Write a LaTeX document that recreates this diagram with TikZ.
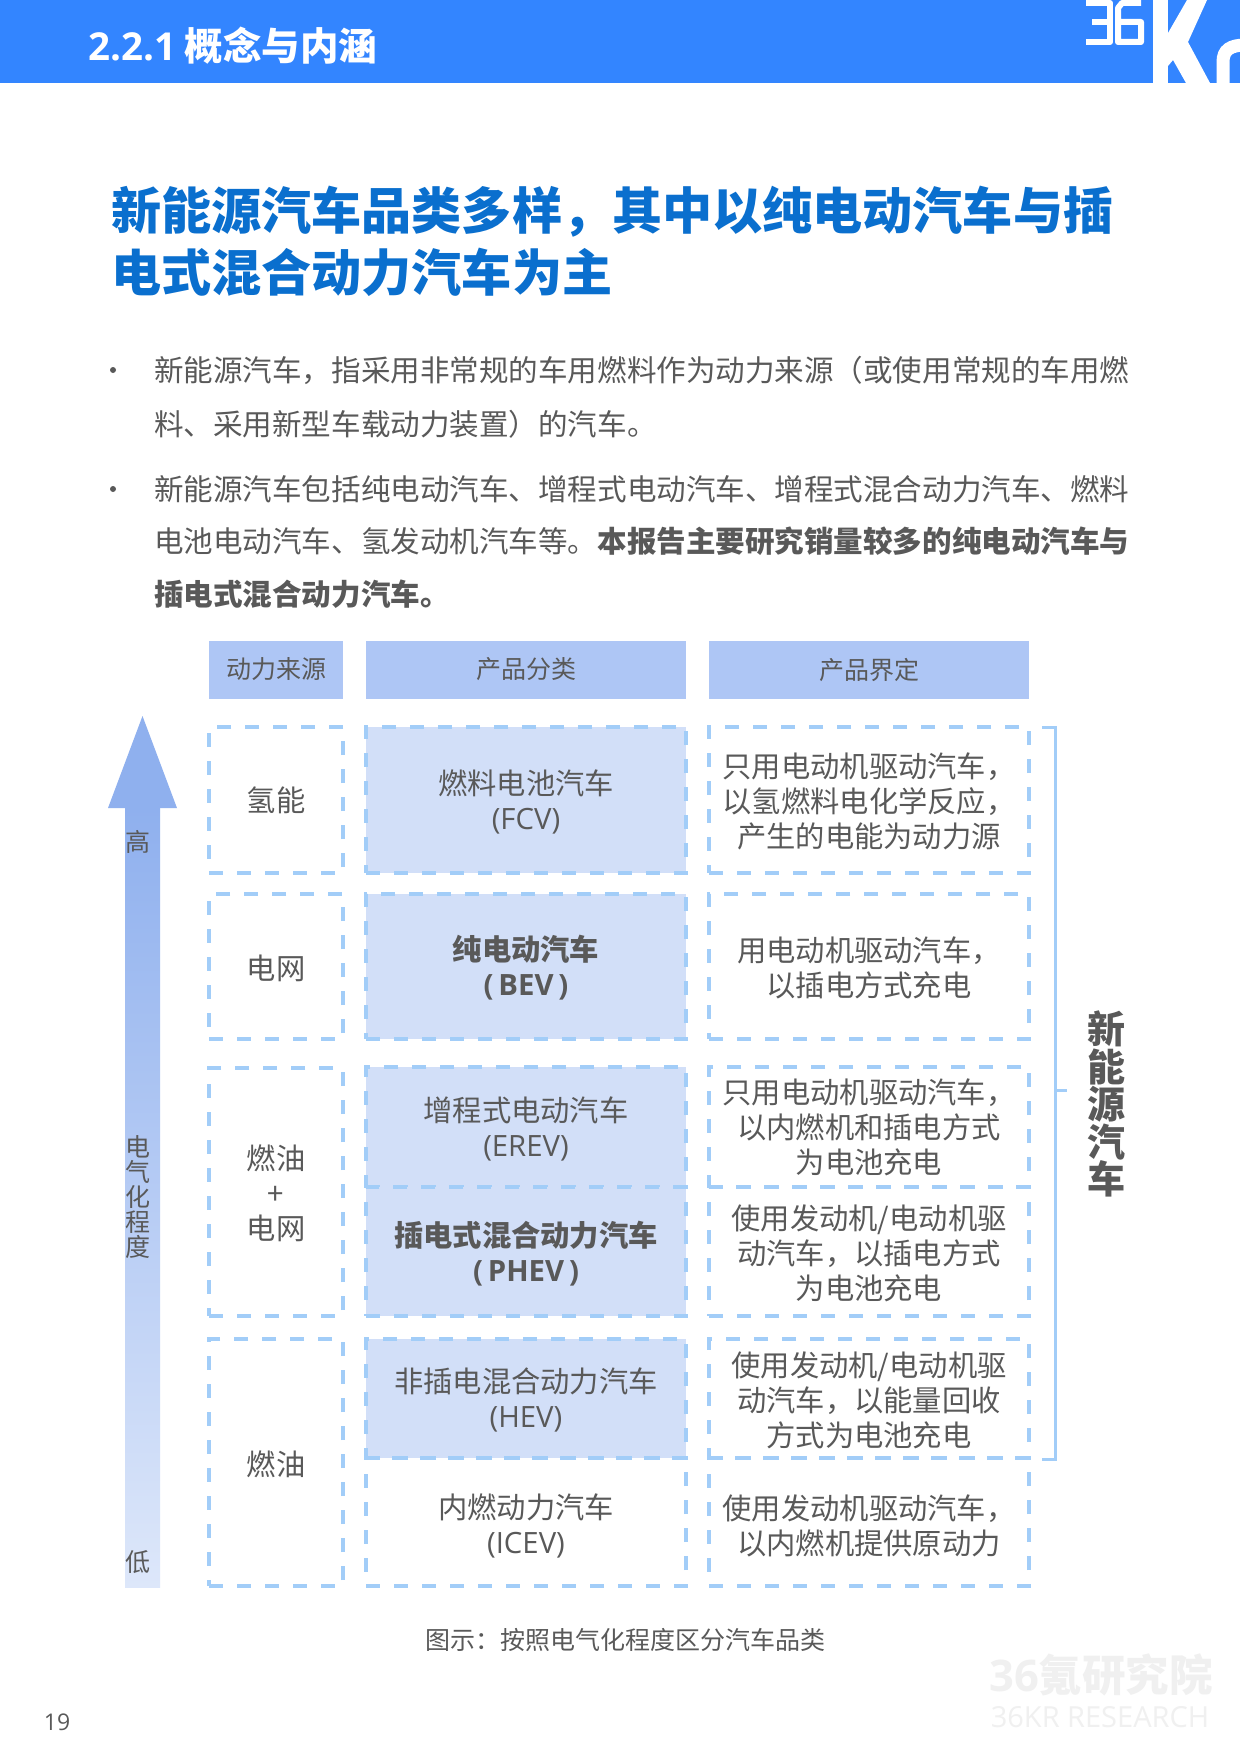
\documentclass[tikz,border=0pt]{standalone}
\usepackage{fontspec}
\setmainfont{Noto Sans CJK SC}
\newfontfamily\lat{Open Sans}
\usetikzlibrary{shadings}
\definecolor{band}{HTML}{3385FF}
\definecolor{titleblue}{HTML}{0A6FCE}
\definecolor{txt}{HTML}{595959}
\definecolor{dashblue}{HTML}{A2CDF8}
\definecolor{headfill}{HTML}{AEC6F5}
\definecolor{cellfill}{HTML}{D2DFF8}
\definecolor{arrowtop}{HTML}{8FB0EE}
\definecolor{arrowbot}{HTML}{DDE7FA}
\tikzset{
 x=1pt,y=-1pt,
 headbox/.style={fill=headfill,draw=none,minimum height=58pt,inner sep=0pt,text=txt,font=\fontsize{25}{25}\selectfont},
 cellbox/.style={draw=dashblue,line width=4.5pt,dash pattern=on 14pt off 14pt,inner sep=0pt},
 celltext/.style={inner sep=0pt,text=txt,align=center,font=\fontsize{29.3}{35}\selectfont},
 col1/.style={cellbox,minimum width=134pt},
 col2/.style={cellbox,minimum width=320pt,fill=cellfill},
 col2w/.style={cellbox,minimum width=320pt},
 col3/.style={cellbox,minimum width=320pt},
 para/.style={anchor=west,inner sep=0pt,text=txt,font=\fontsize{29.55}{29.55}\selectfont},
 lab/.style={inner sep=0pt,text=txt,align=center,font=\fontsize{25}{25}\selectfont},
}
\newcommand{\cellat}[6]{% name, style, y-top, y-bottom, text shift, text
 \pgfmathsetmacro{\hh}{#4-#3}
 \pgfmathsetmacro{\cy}{(#3+#4)/2}
 \node[#2,minimum height=\hh pt,anchor=center] (#1) at (\xc,\cy) {};
 \node[celltext,yshift=-#5pt] (#1t) at (#1.center) {#6};}
\begin{document}
\begin{tikzpicture}
\useasboundingbox (0,0) rectangle (1240,1755);
\fill[white] (0,0) rectangle (1240,1755);
\fill[band] (0,0) rectangle (1240,83);
\node[anchor=west,inner sep=0pt,text=white,font=\fontsize{38.5}{38.5}\selectfont\bfseries] (sec) at (88,46) {{\lat 2.2.1} 概念与内涵};
% logo
\begin{scope}
\clip (0,0) rectangle (1240,83);
\draw[white,line width=6pt,line join=round] (1086,3) -- (1110,3) -- (1110,42) -- (1086,42);
\draw[white,line width=6pt] (1110,22) -- (1092,22);
\draw[white,line width=6pt,line join=round] (1141,3) -- (1122,3) -- (1118,8) -- (1118,42) -- (1141,42) -- (1141,22) -- (1118,22);
\fill[white] (1153,0) rectangle (1168,83);
\fill[white] (1168,33) -- (1187,0) -- (1207,0) -- (1188,42) -- (1210,83) -- (1186,83) -- (1173,60) -- (1168,66) -- cycle;
\draw[white,line width=13pt] (1223,90) -- (1223,62) .. controls (1223,50) and (1230,45) .. (1246,45);
\end{scope}
% title
\node[anchor=west,inner sep=0pt,text=titleblue,font=\fontsize{50.1}{50.1}\selectfont\bfseries] (t1) at (111,212) {新能源汽车品类多样，其中以纯电动汽车与插};
\node[anchor=west,inner sep=0pt,text=titleblue,font=\fontsize{50.1}{50.1}\selectfont\bfseries] (t2) at (111,272) {电式混合动力汽车为主};
% bullets
\node[circle,fill=txt,minimum size=6pt,inner sep=0pt] (b1) at (113,370) {};
\node[circle,fill=txt,minimum size=6pt,inner sep=0pt] (b2) at (113,489) {};
\node[para] (p1) at (154,370) {新能源汽车，指采用非常规的车用燃料作为动力来源（或使用常规的车用燃};
\node[para] (p2) at (154,424) {料、采用新型车载动力装置）的汽车。};
\node[para] (p3) at (154,489) {新能源汽车包括纯电动汽车、增程式电动汽车、增程式混合动力汽车、燃料};
\node[para] (p4) at (154,541) {电池电动汽车、氢发动机汽车等。\textbf{本报告主要研究销量较多的纯电动汽车与}};
\node[para,font=\fontsize{29.55}{29.55}\selectfont\bfseries] (p5) at (154,594) {插电式混合动力汽车。};
% headers
\node[headbox,minimum width=134pt] (h1) at (276,669.5) {动力来源};
\node[headbox,minimum width=320pt] (h2) at (526,669.5) {产品分类};
\node[headbox,minimum width=320pt] (h3) at (869,669.5) {产品界定};
% arrow
\shade[top color=arrowtop,bottom color=arrowbot] (125,808) rectangle (160,1587);
\fill[arrowtop] (142.5,716) -- (177,808) -- (108,808) -- cycle;
\node[lab] (high) at (138,842) {高};
\node[lab] (mid) at (138,1197) {电\\气\\化\\程\\度};
\node[lab] (low) at (138,1562) {低};
% col 1
\def\xc{276}
\cellat{a1}{col1}{727}{873}{0.5}{氢能}
\cellat{a2}{col1}{894}{1039}{1.5}{电网}
\cellat{a3}{col1}{1068}{1316}{1}{燃油\\+\\电网}
\cellat{a4}{col1}{1339}{1586}{2}{燃油}
% col 2
\def\xc{526}
\cellat{c1}{col2}{727}{873}{1.5}{燃料电池汽车\\{\lat (FCV)}}
\cellat{c2}{col2}{894}{1039}{1.5}{\textbf{纯电动汽车}\\\textbf{\lat (\,BEV\,)}}
\cellat{c3}{col2}{1067}{1187}{1.5}{增程式电动汽车\\{\lat (EREV)}}
\cellat{c4}{col2}{1187}{1316}{2.5}{\textbf{插电式混合动力汽车}\\\textbf{\lat (\,PHEV\,)}}
\cellat{c5}{col2}{1339}{1458}{1.5}{非插电混合动力汽车\\{\lat (HEV)}}
\cellat{c6}{col2w}{1458}{1586}{3.5}{内燃动力汽车\\{\lat (ICEV)}}
% col 3
\def\xc{869}
\cellat{d1}{col3}{727}{873}{1}{只用电动机驱动汽车，\\以氢燃料电化学反应，\\产生的电能为动力源}
\cellat{d2}{col3}{894}{1039}{1}{用电动机驱动汽车，\\以插电方式充电}
\cellat{d3}{col3}{1067}{1187}{0.5}{只用电动机驱动汽车，\\以内燃机和插电方式\\为电池充电}
\cellat{d4}{col3}{1187}{1316}{1.5}{使用发动机/电动机驱\\动汽车，以插电方式\\为电池充电}
\cellat{d5}{col3}{1339}{1458}{1.5}{使用发动机/电动机驱\\动汽车，以能量回收\\方式为电池充电}
\cellat{d6}{col3}{1458}{1586}{3.5}{使用发动机驱动汽车，\\以内燃机提供原动力}
% bracket
\coordinate (brt) at (1042,727);
\coordinate (brb) at (1042,1459);
\coordinate (brm) at (1055,1090);
\coordinate (brn) at (1067,1090);
\draw[dashblue,line width=3pt] (brt) -- (1055,727) -- (1055,1459) -- (brb);
\draw[dashblue,line width=3pt] (brm) -- (brn);
\node[inner sep=0pt,text=txt,align=center,font=\fontsize{38}{37.5}\selectfont\bfseries] (nev) at (1106,1104) {新\\能\\源\\汽\\车};
% caption
\node[lab] (cap) at (625,1639.5) {图示：按照电气化程度区分汽车品类};
% watermark
\node[inner sep=0pt,text=black!6,font=\fontsize{43.5}{43.5}\selectfont\bfseries] (wm1) at (1101,1675) {{\lat 36}氪研究院};
\node[inner sep=0pt,text=black!6,font=\fontsize{29}{29}\selectfont] (wm2) at (1100,1717) {\lat 36KR RESEARCH};
\node[inner sep=0pt,text=txt,font=\fontsize{23}{23}\selectfont] (pg) at (57,1722) {\lat 19};
\end{tikzpicture}
\end{document}
